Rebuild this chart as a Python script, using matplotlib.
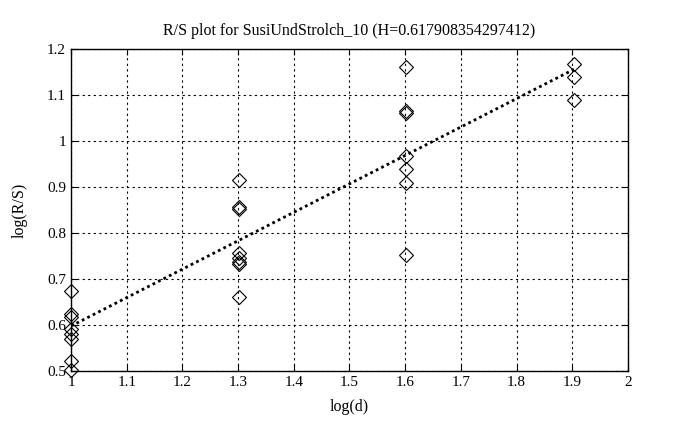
import numpy as np
import matplotlib
matplotlib.use("Agg")
import matplotlib.pyplot as plt

plt.rcParams['font.family'] = ['Liberation Serif', 'DejaVu Serif']

# log10 of window sizes d = 10, 20, 40, 80
log_d_groups = [1.0, 1.30103, 1.60206, 1.90309]
log_rs_groups = [
    [0.675, 0.625, 0.618, 0.591, 0.580, 0.569, 0.522, 0.502],
    [0.916, 0.857, 0.853, 0.756, 0.745, 0.738, 0.733, 0.661],
    [1.160, 1.065, 1.062, 0.968, 0.940, 0.908, 0.752],
    [1.168, 1.140, 1.090],
]
H = 0.617908354297412
intercept = -0.020
title = "R/S plot for SusiUndStrolch_10 (H=0.617908354297412)"
xticks = [1, 1.1, 1.2, 1.3, 1.4, 1.5, 1.6, 1.7, 1.8, 1.9, 2]
xticklabels = ["1", "1.1", "1.2", "1.3", "1.4", "1.5", "1.6", "1.7", "1.8", "1.9", "2"]
yticks = [0.5, 0.6, 0.7, 0.8, 0.9, 1.0, 1.1, 1.2]
yticklabels = ["0.5", "0.6", "0.7", "0.8", "0.9", "1", "1.1", "1.2"]

fig = plt.figure(figsize=(6.78, 4.30), dpi=100)
ax = fig.add_axes([0.1047, 0.137, 0.8215, 0.749])

xs = []
ys = []
for xv, grp in zip(log_d_groups, log_rs_groups):
    xs.extend([xv] * len(grp))
    ys.extend(grp)

ax.plot(xs, ys, linestyle='none', marker='D', markersize=7, markerfacecolor='none',
        markeredgecolor='black', markeredgewidth=0.8, clip_on=False, zorder=3)

lx = np.array([log_d_groups[0], log_d_groups[-1]])
ax.plot(lx, intercept + H * lx, color='black', linestyle=(0, (1, 1.2)), linewidth=2.0, zorder=2)

ax.set_xlim(1, 2)
ax.set_ylim(0.5, 1.2)
ax.set_xticks(xticks)
ax.set_xticklabels(xticklabels)
ax.set_yticks(yticks)
ax.set_yticklabels(yticklabels)
ax.tick_params(direction='in', length=4, width=0.8, labelsize=11, top=True, right=True,
               labeltop=False, labelright=False)
ax.grid(True, color='black', linestyle=(0, (2, 3)), linewidth=0.8)
for s in ax.spines.values():
    s.set_linewidth(1.0)

ax.set_title(title, fontsize=11.5, pad=10)
ax.set_xlabel("log(d)", fontsize=11.5, labelpad=7)
ax.set_ylabel("log(R/S)", fontsize=11.5, labelpad=14)

fig.savefig("out.png", dpi=100)
